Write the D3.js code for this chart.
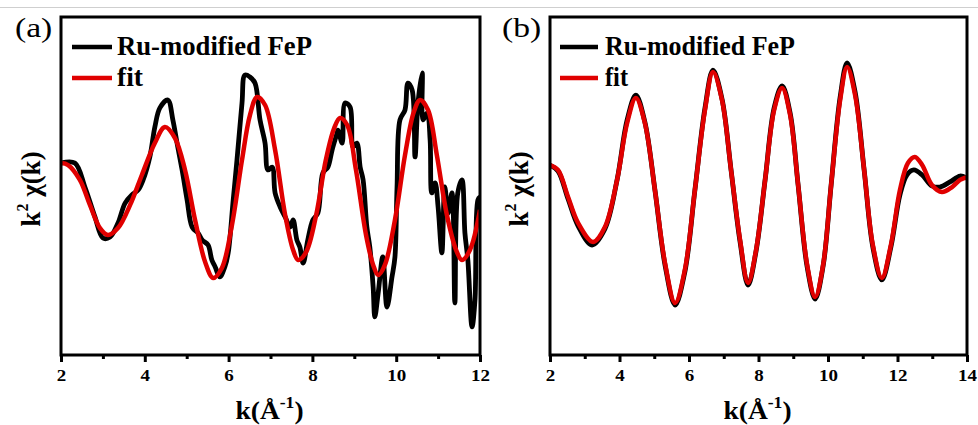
<!DOCTYPE html>
<html>
<head>
<meta charset="utf-8">
<script src="https://cdn.jsdelivr.net/npm/d3@7"></script>
<style>
  html, body { margin: 0; padding: 0; background: #fff; }
  svg { display: block; }
  text { font-family: "Liberation Serif", "Times New Roman", serif; }
</style>
</head>
<body>
<svg id="chart" width="978" height="425"></svg>
<script>
// ---------- data (k in Å^-1, k^2 chi(k) in arbitrary units) ----------
const seriesNames = ["Ru-modified FeP", "fit"];
const seriesColors = ["#000000", "#e00000"];

// panel (a)
const kA_data = [2.00,2.33,2.57,2.81,3.00,3.17,3.36,3.53,3.69,3.84,3.96,4.12,4.24,4.36,4.55,4.67,4.77,4.89,5.01,5.13,5.27,5.37,5.51,5.60,5.68,5.79,5.91,5.99,6.11,6.20,6.32,6.39,6.51,6.63,6.75,6.87,6.94,7.04,7.11,7.23,7.35,7.47,7.54,7.63,7.70,7.78,7.89,8.01,8.13,8.25,8.37,8.47,8.59,8.61,8.71,8.78,8.90,8.97,9.06,9.14,9.21,9.30,9.37,9.45,9.49,9.57,9.68,9.78,9.90,9.97,10.02,10.09,10.21,10.28,10.38,10.45,10.52,10.62,10.64,10.74,10.81,10.85,10.93,11.00,11.09,11.16,11.24,11.33,11.40,11.47,11.57,11.64,11.71,11.81,11.88,11.95,12.00];
const chiA_data = [1.36,1.36,-0.06,-1.83,-3.08,-3.02,-2.19,-1.01,-0.53,-0.24,0.36,1.72,3.49,4.62,5.09,3.91,2.54,0.95,-0.83,-2.43,-2.78,-3.20,-3.49,-4.38,-4.79,-5.38,-4.79,-3.96,-0.83,1.54,4.91,6.57,6.45,6.09,3.91,2.54,0.95,1.12,-0.41,-1.24,-1.83,-2.43,-2.01,-3.20,-3.61,-4.56,-3.20,-2.01,-1.60,0.77,1.12,2.13,3.14,3.31,2.54,4.91,4.67,2.31,2.54,1.12,0.36,-2.43,-3.61,-5.98,-7.75,-6.33,-4.20,-7.16,-5.38,-4.20,-0.06,3.91,4.50,6.09,5.68,1.72,4.91,6.69,3.91,4.32,2.72,-0.41,0.18,-1.24,-3.96,-0.06,-1.60,-0.41,-6.92,-0.41,0.36,-2.78,-4.38,-8.34,-6.75,-0.83,-0.65];
const kA_fit = [2.00,2.17,2.45,2.69,2.93,3.12,3.36,3.65,3.93,4.24,4.48,4.72,4.96,5.20,5.44,5.63,5.84,6.08,6.32,6.51,6.68,6.87,7.11,7.35,7.54,7.66,7.85,8.09,8.32,8.52,8.66,8.83,9.04,9.28,9.45,9.57,9.73,9.97,10.21,10.42,10.57,10.76,10.97,11.21,11.43,11.57,11.76,12.00];
const chiA_fit = [1.36,1.24,0.36,-1.12,-2.49,-2.90,-2.49,-1.12,0.65,2.54,3.49,2.84,0.95,-2.01,-4.50,-5.44,-4.85,-2.31,1.54,4.20,5.27,4.79,2.13,-1.72,-3.79,-4.38,-3.91,-1.72,1.54,3.43,4.02,3.61,0.95,-2.90,-4.67,-5.27,-4.67,-2.01,1.83,4.38,5.09,4.50,1.83,-1.72,-3.79,-4.38,-3.79,-1.42];

// panel (b)
const kB_data = [2.00,2.23,2.52,2.81,3.21,3.58,3.93,4.22,4.47,4.73,5.02,5.31,5.60,5.88,6.17,6.46,6.69,6.95,7.21,7.47,7.70,7.93,8.19,8.45,8.68,8.91,9.14,9.40,9.63,9.86,10.09,10.35,10.55,10.78,11.04,11.29,11.55,11.81,12.07,12.27,12.47,12.71,12.99,13.22,13.51,13.80,14.00];
const chiB_data = [1.24,0.89,-0.77,-2.37,-3.49,-2.54,0.36,3.91,5.38,3.79,-0.24,-4.67,-7.04,-5.09,-0.24,4.62,6.86,5.15,0.95,-3.31,-5.86,-3.85,0.36,4.62,5.92,4.32,0.06,-4.79,-6.69,-4.73,0.06,5.27,7.28,5.56,0.95,-3.61,-5.56,-3.61,-0.53,0.65,0.95,0.65,0.00,-0.06,0.24,0.59,0.47];
const kB_fit = [2.00,2.23,2.52,2.81,3.24,3.58,3.93,4.22,4.47,4.73,5.02,5.31,5.60,5.88,6.17,6.46,6.69,6.95,7.21,7.47,7.70,7.93,8.19,8.45,8.68,8.91,9.14,9.40,9.63,9.86,10.09,10.35,10.55,10.78,11.04,11.29,11.55,11.81,12.07,12.30,12.50,12.71,12.99,13.28,13.57,13.80,14.00];
const chiB_fit = [1.24,0.95,-0.65,-2.19,-3.31,-2.43,0.36,3.73,5.21,3.73,-0.24,-4.56,-6.92,-4.97,-0.24,4.50,6.75,5.09,0.95,-3.20,-5.74,-3.79,0.36,4.50,5.80,4.20,0.06,-4.67,-6.57,-4.67,0.06,5.09,7.04,5.38,0.95,-3.49,-5.44,-3.49,-0.24,1.36,1.72,1.24,0.06,-0.36,-0.06,0.36,0.53];

const xTicksA = [2,4,6,8,10,12];
const xMinorA = [3,5,7,9,11];
const xTicksB = [2,4,6,8,10,12,14];
const xMinorB = [3,5,7,9,11,13];

const panels = [
  {label: "(a)", left: 61, right: 480, domain: [2,12], ticks: xTicksA, minor: xMinorA,
   kData: kA_data, chiData: chiA_data, kFit: kA_fit, chiFit: chiA_fit, labelX: 15, yLabelX: 40,
   legLine: [11, 51], legText: 56, legWidths: [195, 26]},
  {label: "(b)", left: 550, right: 967, domain: [2,14], ticks: xTicksB, minor: xMinorB,
   kData: kB_data, chiData: chiB_data, kFit: kB_fit, chiFit: chiB_fit, labelX: 502, yLabelX: 528,
   legLine: [10, 48], legText: 55, legWidths: [190, 23]}
];

const svg = d3.select("#chart");
const plotTop = 17, plotBottom = 355;

// thin gray rule at top
svg.append("line").attr("x1", 0).attr("x2", 978).attr("y1", 7.5).attr("y2", 7.5)
  .attr("stroke", "#cfcfcf").attr("stroke-width", 1);

panels.forEach((p, pi) => {
  const x = d3.scaleLinear().domain(p.domain).range([p.left, p.right]);
  const y = d3.scaleLinear().domain([-10, 10]).range([plotBottom, plotTop]);
  const g = svg.append("g");

  const clipId = "clip" + pi;
  g.append("clipPath").attr("id", clipId).append("rect")
    .attr("x", p.left).attr("y", plotTop).attr("width", p.right - p.left).attr("height", plotBottom - plotTop);

  const line = d3.line().x(d => x(d[0])).y(d => y(d[1])).curve(d3.curveCatmullRom.alpha(0.5));
  const dataPts = p.kData.map((k, i) => [k, p.chiData[i]]);
  const fitPts = p.kFit.map((k, i) => [k, p.chiFit[i]]);

  const lg = g.append("g").attr("clip-path", `url(#${clipId})`);
  lg.append("path").datum(dataPts).attr("d", line).attr("fill", "none")
    .attr("stroke", seriesColors[0]).attr("stroke-width", 4.8).attr("stroke-linejoin", "round");
  lg.append("path").datum(fitPts).attr("d", line).attr("fill", "none")
    .attr("stroke", seriesColors[1]).attr("stroke-width", 4.5).attr("stroke-linejoin", "round");

  // frame
  g.append("rect").attr("x", p.left).attr("y", plotTop)
    .attr("width", p.right - p.left).attr("height", plotBottom - plotTop)
    .attr("fill", "none").attr("stroke", "#000").attr("stroke-width", 3);

  // major axis
  const ax = g.append("g").attr("transform", `translate(0,${plotBottom})`)
    .call(d3.axisBottom(x).tickValues(p.ticks).tickSize(7).tickPadding(6).tickFormat(d3.format("d")));
  ax.select(".domain").remove();
  ax.selectAll(".tick line").attr("stroke", "#000").attr("stroke-width", 3);
  ax.selectAll(".tick text").attr("font-family", "Liberation Serif, serif")
    .attr("font-weight", "bold").attr("font-size", 16.5).attr("fill", "#000")
    .attr("transform", "scale(1.15,1)").attr("x", 0).attr("y", 14);
  // minor ticks
  const mx = g.append("g").attr("transform", `translate(0,${plotBottom})`)
    .call(d3.axisBottom(x).tickValues(p.minor).tickSize(4).tickFormat(""));
  mx.select(".domain").remove();
  mx.selectAll(".tick line").attr("stroke", "#000").attr("stroke-width", 3);

  // x title
  const cx = (p.left + p.right) / 2 - 1;
  const xt = g.append("text")
    .attr("transform", `translate(${cx},419) scale(1.1,1)`)
    .attr("text-anchor", "middle").attr("font-weight", "bold").attr("font-size", 25);
  xt.append("tspan").text("k(Å");
  xt.append("tspan").attr("font-size", 16).attr("dy", -11).text("-1");
  xt.append("tspan").attr("dy", 11).text(")");

  // y title
  const yt = g.append("text")
    .attr("transform", `translate(${p.yLabelX},${189}) rotate(-90)`)
    .attr("text-anchor", "middle").attr("font-weight", "bold").attr("font-size", 27);
  yt.append("tspan").text("k");
  yt.append("tspan").attr("font-size", 16).attr("dy", -12).text("2");
  yt.append("tspan").attr("dy", 12).text(" χ(k)");

  // panel label
  g.append("text").attr("transform", `translate(${p.labelX},37) scale(1.2,1)`)
    .attr("font-size", 28).text(p.label);

  // legend
  const legY = [47, 78];
  seriesNames.forEach((name, i) => {
    g.append("line").attr("x1", p.left + p.legLine[0]).attr("x2", p.left + p.legLine[1])
      .attr("y1", legY[i]).attr("y2", legY[i])
      .attr("stroke", seriesColors[i]).attr("stroke-width", 4.5);
    g.append("text").attr("x", p.left + p.legText).attr("y", legY[i] + 8)
      .attr("font-weight", "bold").attr("font-size", 27)
      .attr("textLength", p.legWidths[i]).attr("lengthAdjust", "spacingAndGlyphs")
      .text(name);
  });
});
</script>
</body>
</html>
